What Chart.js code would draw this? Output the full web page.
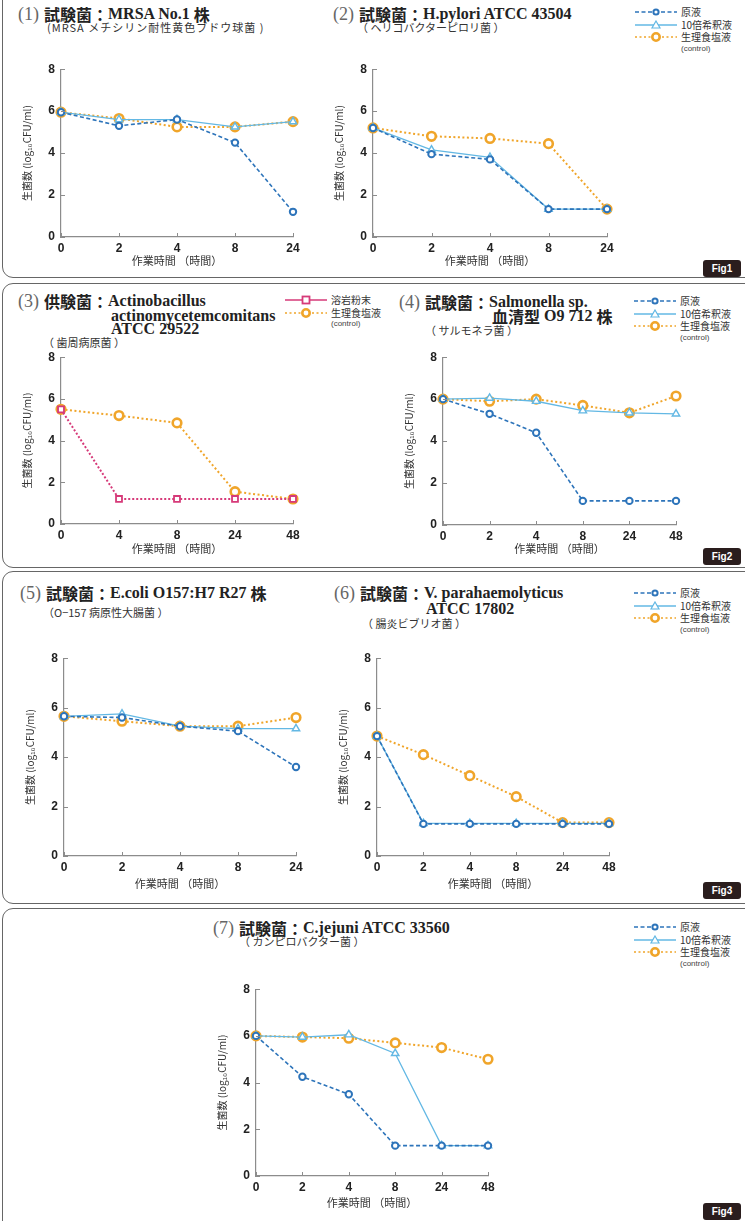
<!DOCTYPE html>
<html lang="ja">
<head>
<meta charset="utf-8">
<title>殺菌試験 作業時間と生菌数</title>
<script src="https://cdn.jsdelivr.net/npm/chart.js@4.4.1/dist/chart.umd.min.js"></script>
<style>
  html, body { margin: 0; padding: 0; background: #fff; }
  body { width: 745px; height: 1221px; position: relative; overflow: hidden;
         font-family: "Noto Sans CJK JP", "Liberation Sans", sans-serif; color: #222; }
  .box { position: absolute; left: 2px; width: 800px; border: 1.6px solid #666; border-radius: 11px; box-sizing: border-box; }
  .fig { position: absolute; left: 703px; width: 38px; height: 17px; background: #2a1d1d; color: #fff;
         border-radius: 3px; font: bold 10px "Liberation Sans", sans-serif; text-align: center; line-height: 17px; }
  .ttl { position: absolute; white-space: nowrap; height: 16px; line-height: 16px; }
  .ttl span { vertical-align: top; }
  .ttl .no { font: 18px "Liberation Serif", serif; line-height: 16px; color: #666; margin-right: 5px; }
  .ttl .jp { font: bold 16px "Noto Sans CJK JP", sans-serif; line-height: 16px; color: #222; }
  .ttl .en { font: bold 16px "Liberation Serif", "Noto Sans CJK JP", serif; line-height: 16px; color: #222; }
  .ttl .en .k { font-family: "Noto Sans CJK JP", sans-serif; }
  .sub { position: absolute; white-space: nowrap; font: 11px "Noto Sans CJK JP", sans-serif; color: #333; line-height: 11px; }
  .legend { position: absolute; font: 10px "Noto Sans CJK JP", sans-serif; line-height: 12px; color: #333; }
  .legend .row { position: relative; height: 12.5px; display: flex; align-items: center; white-space: nowrap; }
  .legend svg { display: block; margin-right: 4px; }
  .legend .ctl { font: 8px "Liberation Sans", sans-serif; line-height: 9px; margin-left: 46px; color: #444; }
  canvas { position: absolute; }
</style>
</head>
<body>

<div class="box" style="top:-14px;height:292px;"></div>
<div class="box" style="top:283px;height:285px;"></div>
<div class="box" style="top:571px;height:333px;"></div>
<div class="box" style="top:908px;height:340px;"></div>

<div class="fig" style="top:260px;">Fig1</div>
<div class="fig" style="top:548px;">Fig2</div>
<div class="fig" style="top:882px;">Fig3</div>
<div class="fig" style="top:1203px;">Fig4</div>

<!-- panel titles -->
<div class="ttl" style="left:18px;top:6px;"><span class="no">(1)</span><span class="jp">試験菌：</span><span class="en">MRSA No.1 <span class="k">株</span></span></div>
<div class="sub" style="left:47px;top:22px;letter-spacing:1px;">(MRSA メチシリン耐性黄色ブドウ球菌 )</div>

<div class="ttl" style="left:333px;top:6px;"><span class="no">(2)</span><span class="jp">試験菌：</span><span class="en">H.pylori ATCC 43504</span></div>
<div class="sub" style="left:357px;top:22px;">（ ヘリコバクターピロリ菌 ）</div>

<div class="ttl" style="left:18px;top:293px;"><span class="no">(3)</span><span class="jp">供験菌：</span><span class="en">Actinobacillus</span></div>
<div class="ttl" style="left:111px;top:308px;"><span class="en">actinomycetemcomitans</span></div>
<div class="ttl" style="left:111px;top:321px;"><span class="en">ATCC 29522</span></div>
<div class="sub" style="left:43px;top:337px;">（ 歯周病原菌 ）</div>

<div class="ttl" style="left:399px;top:294px;"><span class="no">(4)</span><span class="jp">試験菌：</span><span class="en">Salmonella sp.</span></div>
<div class="ttl" style="left:492px;top:308px;"><span class="en"><span class="k">血清型</span> O9 712 <span class="k">株</span></span></div>
<div class="sub" style="left:425px;top:325px;">（ サルモネラ菌 ）</div>

<div class="ttl" style="left:20px;top:585px;"><span class="no">(5)</span><span class="jp">試験菌：</span><span class="en">E.coli O157:H7 R27 <span class="k">株</span></span></div>
<div class="sub" style="left:43px;top:607px;">（O−157 病原性大腸菌 ）</div>

<div class="ttl" style="left:334px;top:585px;"><span class="no">(6)</span><span class="jp">試験菌：</span><span class="en">V. parahaemolyticus</span></div>
<div class="ttl" style="left:426px;top:601px;"><span class="en">ATCC 17802</span></div>
<div class="sub" style="left:362px;top:618px;">（ 腸炎ビブリオ菌 ）</div>

<div class="ttl" style="left:213px;top:920px;"><span class="no">(7)</span><span class="jp">試験菌：</span><span class="en">C.jejuni ATCC 33560</span></div>
<div class="sub" style="left:239px;top:936px;">（ カンピロバクター菌 ）</div>

<div id="lg1" class="legend" style="left:635px;top:6px;"></div>
<div id="lg2" class="legend" style="left:285px;top:294px;"></div>
<div id="lg3" class="legend" style="left:634px;top:295px;"></div>
<div id="lg4" class="legend" style="left:634px;top:587px;"></div>
<div id="lg5" class="legend" style="left:634px;top:921px;"></div>

<canvas id="c1"></canvas>
<canvas id="c2"></canvas>
<canvas id="c3"></canvas>
<canvas id="c4"></canvas>
<canvas id="c5"></canvas>
<canvas id="c6"></canvas>
<canvas id="c7"></canvas>

<script>
// sampling times (hours)
const hoursTo24 = ['0', '2', '4', '8', '24'];
const hoursTo48 = ['0', '2', '4', '8', '24', '48'];
const hoursSparse = ['0', '4', '8', '24', '48'];
const countTicks = [0, 2, 4, 6, 8];

// (1) MRSA No.1
const mrsaStock   = [5.95, 5.3, 5.6, 4.5, 1.2];
const mrsaDiluted = [5.95, 5.6, 5.6, 5.25, 5.5];
const mrsaSaline  = [5.95, 5.65, 5.25, 5.25, 5.5];

// (2) H.pylori ATCC 43504
const pyloriStock   = [5.2, 3.95, 3.7, 1.33, 1.33];
const pyloriDiluted = [5.2, 4.15, 3.8, 1.33, 1.33];
const pyloriSaline  = [5.2, 4.8, 4.7, 4.45, 1.33];

// (3) A. actinomycetemcomitans ATCC 29522
const actinoLava   = [5.5, 1.2, 1.2, 1.2, 1.2];
const actinoSaline = [5.5, 5.2, 4.85, 1.55, 1.2];

// (4) Salmonella sp. O9 712
const salmoStock   = [6.0, 5.3, 4.4, 1.15, 1.15, 1.15];
const salmoDiluted = [6.0, 6.05, 5.9, 5.45, 5.35, 5.3];
const salmoSaline  = [6.0, 5.9, 6.0, 5.7, 5.35, 6.15];

// (5) E.coli O157:H7 R27
const ecoliStock   = [5.65, 5.6, 5.25, 5.05, 3.6];
const ecoliDiluted = [5.65, 5.75, 5.25, 5.15, 5.15];
const ecoliSaline  = [5.65, 5.45, 5.25, 5.25, 5.6];

// (6) V. parahaemolyticus ATCC 17802
const vibrioStock   = [4.85, 1.3, 1.3, 1.3, 1.3, 1.3];
const vibrioDiluted = [4.85, 1.32, 1.32, 1.32, 1.32, 1.32];
const vibrioSaline  = [4.85, 4.1, 3.25, 2.4, 1.35, 1.35];

// (7) C.jejuni ATCC 33560
const jejuniStock   = [6.0, 4.25, 3.5, 1.3, 1.3, 1.3];
const jejuniDiluted = [6.0, 5.95, 6.05, 5.25, 1.3, 1.3];
const jejuniSaline  = [6.0, 5.95, 5.9, 5.7, 5.5, 5.0];

// series styles
const STOCK = { label: '原液', color: '#2d74ba', dash: [4, 2.5], width: 1.6, point: 'circle', r: 3.2, pbw: 2 };
const DILUTED = { label: '10倍希釈液', color: '#63b8e4', dash: [], width: 1.3, point: 'triangle', r: 4.3, pbw: 1.4 };
const SALINE = { label: '生理食塩液', color: '#f0a52a', dash: [2, 2.5], width: 2, point: 'circle', r: 4.3, pbw: 2.6 };
const LAVA = { label: '溶岩粉末', color: '#d63a79', dash: [2, 2], width: 2, point: 'rect', r: 4.2, pbw: 1.8 };

const Y_W = 40, PAD_T = 12, PAD_R = 14;

function ds(style, data) {
  return {
    label: style.label, data,
    borderColor: style.color, borderWidth: style.width, borderDash: style.dash,
    pointStyle: style.point, pointRadius: style.r, pointBorderWidth: style.pbw,
    pointBorderColor: style.color, pointBackgroundColor: '#fff',
    tension: 0, clip: false, fill: false
  };
}

// short tick marks drawn inward from the axes
const innerTicks = {
  id: 'innerTicks',
  afterDraw(chart) {
    const { ctx, scales: { x, y }, chartArea: a } = chart;
    ctx.save();
    ctx.strokeStyle = '#8c8c8c';
    ctx.lineWidth = 1;
    ctx.beginPath();
    x.ticks.forEach((t, i) => { const p = Math.round(x.getPixelForTick(i)) + 0.5; ctx.moveTo(p, a.bottom); ctx.lineTo(p, a.bottom - 4); });
    y.ticks.forEach((t, i) => { const p = Math.round(y.getPixelForTick(i)) + 0.5; ctx.moveTo(a.left, p); ctx.lineTo(a.left + 4, p); });
    ctx.stroke();
    ctx.restore();
  }
};

Chart.defaults.font.family = '"Liberation Sans", Arial, sans-serif';

function panel(id, rect, labels, datasets, xGap) {
  const X_H = xGap + 9;
  const cv = document.getElementById(id);
  const w = Math.round(rect.right - rect.left) + Y_W + PAD_R;
  const h = Math.round(rect.bottom - rect.top) + PAD_T + X_H;
  cv.width = w; cv.height = h;
  cv.style.left = (Math.round(rect.left) - Y_W) + 'px';
  cv.style.top = (Math.round(rect.top) - PAD_T) + 'px';
  cv.style.width = w + 'px'; cv.style.height = h + 'px';
  return new Chart(cv, {
    type: 'line',
    data: { labels, datasets },
    plugins: [innerTicks],
    options: {
      responsive: false, animation: false, devicePixelRatio: 1,
      layout: { padding: { left: 0, top: PAD_T, right: PAD_R, bottom: 0 } },
      plugins: { legend: { display: false }, tooltip: { enabled: false } },
      scales: {
        x: {
          type: 'category', offset: false,
          grid: { display: false, drawTicks: false },
          border: { display: true, color: '#8c8c8c', width: 1.2 },
          ticks: { padding: 4, color: '#222', font: { size: 12, weight: 'bold' }, maxRotation: 0, autoSkip: false },
          title: { display: true, text: '作業時間 （時間）', color: '#333',
                   font: { size: 11, family: '"Noto Sans CJK JP", sans-serif' }, padding: { top: 0, bottom: 2 } },
          afterFit(s) { s.height = X_H; }
        },
        y: {
          min: 0, max: 8,
          afterBuildTicks(s) { s.ticks = countTicks.map(v => ({ value: v })); },
          grid: { display: false, drawTicks: false },
          border: { display: true, color: '#8c8c8c', width: 1.2 },
          ticks: { padding: 6, color: '#222', font: { size: 12, weight: 'bold' } },
          title: { display: true, text: '生菌数 (log₁₀CFU/ml)', color: '#333',
                   font: { size: 10, family: '"Noto Sans CJK JP", sans-serif' }, padding: { top: 0, bottom: 0 } },
          afterFit(s) { s.width = Y_W; }
        }
      }
    }
  });
}

panel('c1', { left: 61, right: 293, top: 68, bottom: 237 }, hoursTo24,
  [ds(STOCK, mrsaStock), ds(DILUTED, mrsaDiluted), ds(SALINE, mrsaSaline)], 23);
panel('c2', { left: 373, right: 607, top: 68, bottom: 237 }, hoursTo24,
  [ds(STOCK, pyloriStock), ds(DILUTED, pyloriDiluted), ds(SALINE, pyloriSaline)], 23);
panel('c3', { left: 61, right: 293, top: 356, bottom: 524 }, hoursSparse,
  [ds(LAVA, actinoLava), ds(SALINE, actinoSaline)], 24);
panel('c4', { left: 443, right: 676, top: 356, bottom: 525 }, hoursTo48,
  [ds(STOCK, salmoStock), ds(DILUTED, salmoDiluted), ds(SALINE, salmoSaline)], 23);
panel('c5', { left: 64, right: 296, top: 657, bottom: 856 }, hoursTo24,
  [ds(STOCK, ecoliStock), ds(DILUTED, ecoliDiluted), ds(SALINE, ecoliSaline)], 27);
panel('c6', { left: 377, right: 609, top: 657, bottom: 856 }, hoursTo48,
  [ds(STOCK, vibrioStock), ds(DILUTED, vibrioDiluted), ds(SALINE, vibrioSaline)], 27);
panel('c7', { left: 256, right: 488, top: 988, bottom: 1176 }, hoursTo48,
  [ds(STOCK, jejuniStock), ds(DILUTED, jejuniDiluted), ds(SALINE, jejuniSaline)], 26);

// legend rows: line sample with marker, then label
function markerSvg(s) {
  const cx = 21, cy = 5, c = s.color;
  let m = '';
  if (s.point === 'circle') m = `<circle cx="${cx}" cy="${cy}" r="${s.r - 0.6}" fill="#fff" stroke="${c}" stroke-width="${s.pbw}"/>`;
  if (s.point === 'triangle') m = `<polygon points="${cx},${cy - 4} ${cx + 4},${cy + 3} ${cx - 4},${cy + 3}" fill="#fff" stroke="${c}" stroke-width="1.2"/>`;
  if (s.point === 'rect') m = `<rect x="${cx - 3.5}" y="${cy - 3.5}" width="7" height="7" fill="#fff" stroke="${c}" stroke-width="1.8"/>`;
  const dash = s.dash.length ? `stroke-dasharray="${s.dash.join(',')}"` : '';
  return `<svg width="42" height="10"><line x1="0" y1="${cy}" x2="42" y2="${cy}" stroke="${c}" stroke-width="${Math.min(s.width, 1.6)}" ${dash}/>${m}</svg>`;
}
function legend(id, styles, solidFirst) {
  const el = document.getElementById(id);
  let html = '';
  styles.forEach(s => {
    const st = (solidFirst && s === LAVA) ? Object.assign({}, s, { dash: [] }) : s;
    html += `<div class="row">${markerSvg(st)}<span>${s.label}</span></div>`;
    if (s === SALINE) html += `<div class="ctl">(control)</div>`;
  });
  el.innerHTML = html;
}
legend('lg1', [STOCK, DILUTED, SALINE]);
legend('lg2', [LAVA, SALINE], true);
legend('lg3', [STOCK, DILUTED, SALINE]);
legend('lg4', [STOCK, DILUTED, SALINE]);
legend('lg5', [STOCK, DILUTED, SALINE]);
</script>
</body>
</html>
